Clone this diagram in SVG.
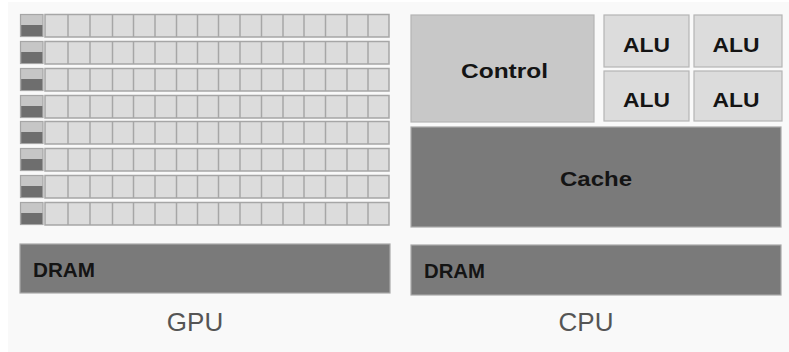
<svg xmlns="http://www.w3.org/2000/svg" xmlns:xlink="http://www.w3.org/1999/xlink" width="789" height="352" viewBox="0 0 789 352">
<style>
.bg{fill:#f9f9f9}
.cell{fill:#dcdcdc;stroke:#a6a6a6;stroke-width:1.5}
.ctl{fill:#c8c8c8;stroke:#b4b4b4;stroke-width:1.2}
.alu{fill:#dcdcdc;stroke:#b4b4b4;stroke-width:1.2}
.dark{fill:#7a7a7a;stroke:#a8a8a8;stroke-width:1.2}
.lbl{font-family:"Liberation Sans",Arial,sans-serif;font-weight:bold;font-size:20px;fill:#141414}
.cap{font-family:"Liberation Sans",Arial,sans-serif;font-size:26px;fill:#555555;text-anchor:middle}
</style>
<defs>
<g id="row">
<rect x="20.5" y="0.5" width="22.5" height="22" fill="#c6c6c6" stroke="#a6a6a6" stroke-width="1.2"/>
<rect x="21.2" y="11" width="21.2" height="11" fill="#6e6e6e"/>
<rect class="cell" x="45" y="0.5" width="344" height="22.5"/>
<path d="M68 0.5V23M90 0.5V23M112.5 0.5V23M133.5 0.5V23M155 0.5V23M176.5 0.5V23M197.5 0.5V23M218.5 0.5V23M240 0.5V23M261.5 0.5V23M283 0.5V23M304 0.5V23M325.5 0.5V23M347 0.5V23M368 0.5V23" stroke="#a6a6a6" stroke-width="1.5" fill="none"/>
</g>
</defs>
<rect x="0" y="0" width="789" height="352" fill="#ffffff"/>
<rect class="bg" x="8" y="2" width="781" height="350"/>
<g id="gpu-cores">
<use xlink:href="#row" y="14"/>
<use xlink:href="#row" y="41"/>
<use xlink:href="#row" y="68"/>
<use xlink:href="#row" y="95"/>
<use xlink:href="#row" y="121"/>
<use xlink:href="#row" y="148"/>
<use xlink:href="#row" y="175"/>
<use xlink:href="#row" y="202"/>
</g>
<g id="gpu-dram">
<rect class="dark" x="20" y="244" width="370" height="49"/>
<text class="lbl" x="33" y="277" textLength="62" lengthAdjust="spacingAndGlyphs">DRAM</text>
</g>
<g id="gpu-label"><text class="cap" x="195" y="331">GPU</text></g>
<g id="control">
<rect class="ctl" x="411" y="15" width="183" height="107"/>
<text class="lbl" x="504.5" y="78" text-anchor="middle" textLength="87" lengthAdjust="spacingAndGlyphs">Control</text>
</g>
<g id="alu1">
<rect class="alu" x="604" y="15" width="85" height="52"/>
<text class="lbl" x="646.5" y="52" text-anchor="middle" textLength="47" lengthAdjust="spacingAndGlyphs">ALU</text>
</g>
<g id="alu2">
<rect class="alu" x="694" y="15" width="88" height="52"/>
<text class="lbl" x="736" y="52" text-anchor="middle" textLength="47" lengthAdjust="spacingAndGlyphs">ALU</text>
</g>
<g id="alu3">
<rect class="alu" x="604" y="71" width="85" height="50"/>
<text class="lbl" x="646.5" y="106.5" text-anchor="middle" textLength="47" lengthAdjust="spacingAndGlyphs">ALU</text>
</g>
<g id="alu4">
<rect class="alu" x="694" y="71" width="88" height="50"/>
<text class="lbl" x="736" y="106.5" text-anchor="middle" textLength="47" lengthAdjust="spacingAndGlyphs">ALU</text>
</g>
<g id="cache">
<rect class="dark" x="411" y="127" width="370" height="100"/>
<text class="lbl" x="596" y="186" text-anchor="middle" textLength="72" lengthAdjust="spacingAndGlyphs">Cache</text>
</g>
<g id="cpu-dram">
<rect class="dark" x="411" y="245" width="370" height="50"/>
<text class="lbl" x="424" y="277.5" textLength="61" lengthAdjust="spacingAndGlyphs">DRAM</text>
</g>
<g id="cpu-label"><text class="cap" x="586" y="331">CPU</text></g>
<g id="connectors"/>
</svg>
